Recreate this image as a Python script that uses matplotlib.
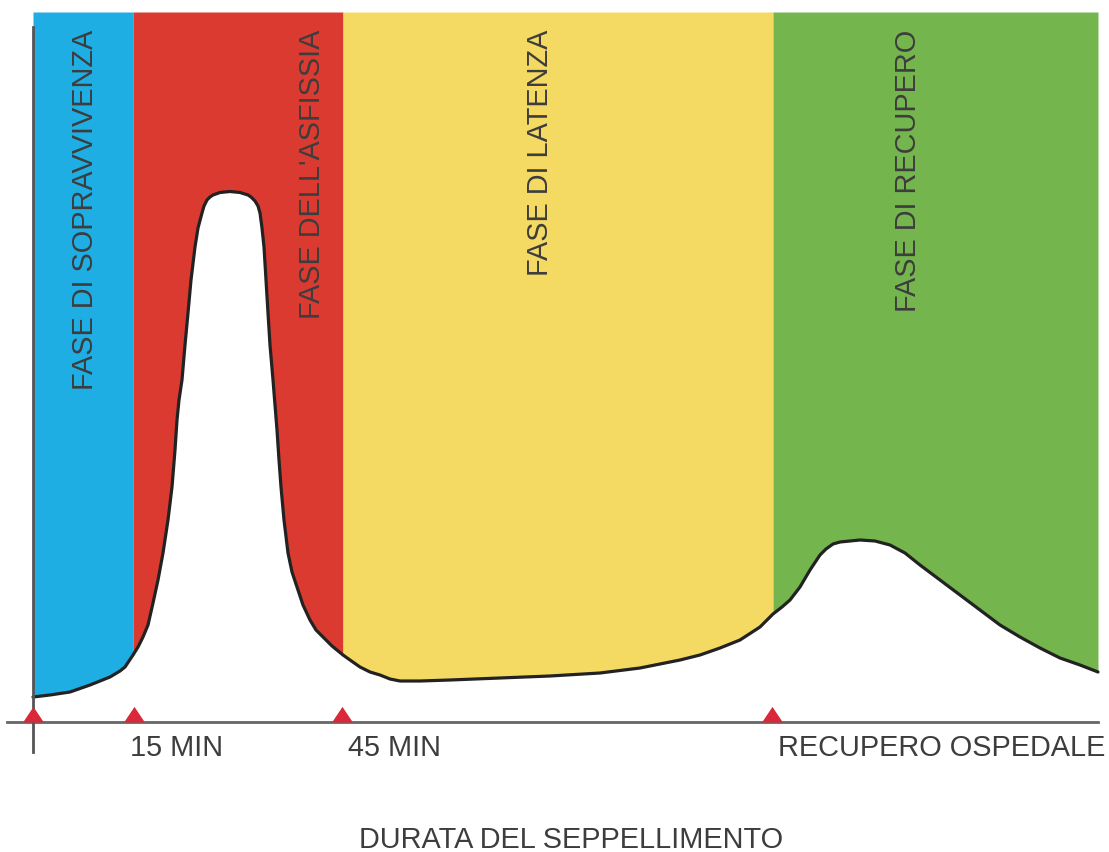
import matplotlib
matplotlib.use("Agg")
import matplotlib.pyplot as plt
import numpy as np

# ---- data (x: time position, y read as pixel row; converted to height above the axis) ----
curve_x = [33, 50, 70, 90, 110, 120, 125, 133, 138, 143, 148, 153, 158, 163, 168,
           172, 175, 177, 179, 182, 185, 188, 191, 195, 198, 202, 204, 207, 210,
           213, 220, 230, 240, 248, 251, 255, 258, 260, 262, 264, 266, 268, 270,
           273, 275, 277, 279, 281, 284, 288, 292, 297, 303, 310, 316, 323, 332,
           343, 350, 360, 370, 380, 390, 400, 420, 450, 500, 550, 600, 640, 680,
           700, 720, 740, 760, 773, 782, 790, 800, 810, 820, 826, 833, 840, 850,
           860, 875, 890, 905, 920, 940, 960, 980, 1000, 1020, 1040, 1060, 1080, 1098]
curve_y_px = [697, 695, 692, 685, 677, 671, 667, 655, 647, 637, 625, 603, 580, 553, 520,
              487, 450, 420, 400, 380, 345, 313, 280, 247, 228, 213, 206, 200, 197,
              195, 192.5, 191.5, 192.5, 195, 197, 201, 206, 213, 228, 247, 280, 313, 345,
              380, 405, 430, 460, 487, 520, 553, 572, 587, 605, 620, 630, 637, 646,
              655, 660, 667, 672, 675, 679, 681, 681, 680, 678, 676, 673, 668, 660,
              655, 648, 640, 627, 614, 607, 600, 587, 570, 555, 549, 544, 542, 541,
              540, 541, 545, 553, 565, 580, 595, 610, 625, 637, 648, 658, 665, 672]
AXIS_PX = 722
curve_y = [AXIS_PX - v for v in curve_y_px]

phase_edges = [33, 133, 343, 773, 1098]
phase_names = ["FASE DI SOPRAVVIVENZA", "FASE DELL'ASFISSIA", "FASE DI LATENZA", "FASE DI RECUPERO"]
phase_colors = ["#1FAEE3", "#DB3A30", "#F4DA62", "#74B64D"]
phase_label_x = [85, 312, 540, 908]

marker_x = [33, 134, 342, 772]
tick_labels = ["15 MIN", "45 MIN", "RECUPERO OSPEDALE"]
tick_label_x = [130, 348, 778]
xlabel = "DURATA DEL SEPPELLIMENTO"

TOP = AXIS_PX - 12

# ---- figure ----
fig = plt.figure(figsize=(11.09, 8.52), dpi=100)
ax = fig.add_axes([0, 0, 1, 1])
ax.set_xlim(0, 1109)
ax.set_ylim(AXIS_PX - 852, AXIS_PX)
ax.axis("off")

cx = np.array(curve_x, dtype=float)
cy = np.array(curve_y, dtype=float)

txt_color = "#3d3d3d"
font = "Liberation Sans"

for i in range(4):
    lo, hi = phase_edges[i], phase_edges[i + 1]
    m = (cx >= lo) & (cx <= hi)
    ax.fill_between(cx[m], cy[m], TOP, color=phase_colors[i], lw=0, zorder=1)
    ax.text(phase_label_x[i], AXIS_PX - 30, phase_names[i], rotation=90,
            ha="center", va="top", fontsize=20.8, color=txt_color,
            family=font, zorder=3)

ax.plot(cx, cy, color="#222222", lw=2.3, zorder=2,
        solid_capstyle="round", solid_joinstyle="round")

# axes lines
ax.plot([7, 1098], [0, 0], color="#666666", lw=2, zorder=2)
ax.plot([33, 33], [AXIS_PX - 752, AXIS_PX - 27], color="#555555", lw=2, zorder=2)

tri = [(-1, 0), (1, 0), (0, 1.5), (-1, 0)]
ax.plot(marker_x, [0] * len(marker_x), linestyle="none", marker=tri,
        markersize=22.5, color="#D8283A", markeredgewidth=0, zorder=4, clip_on=False)

for lab, x in zip(tick_labels, tick_label_x):
    ax.text(x, AXIS_PX - 748, lab, ha="left", va="center", fontsize=20.8,
            color=txt_color, family=font)

ax.text(571, AXIS_PX - 840, xlabel, ha="center", va="center", fontsize=20.8,
        color=txt_color, family=font)

fig.savefig("out.png", dpi=100)
